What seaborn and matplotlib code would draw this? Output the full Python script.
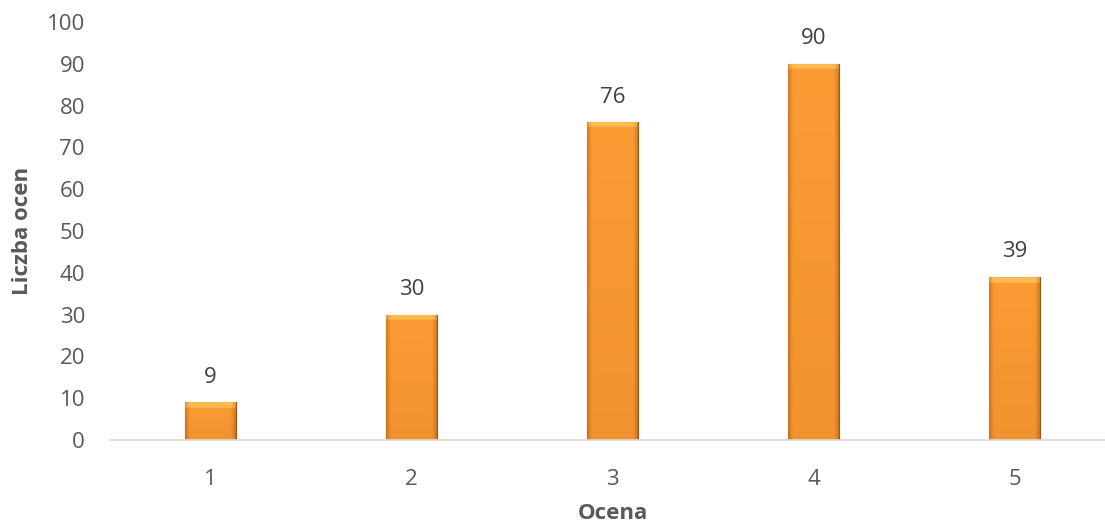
import numpy as np
import pandas as pd
import matplotlib
matplotlib.use("Agg")
import matplotlib.pyplot as plt
import seaborn as sns

categories = ["1", "2", "3", "4", "5"]
values = [9, 30, 76, 90, 39]
y_ticks = [0, 10, 20, 30, 40, 50, 60, 70, 80, 90, 100]

sns.set_theme(style="white")
plt.rcParams['font.family'] = ['Open Sans', 'DejaVu Sans']

df = pd.DataFrame({"Ocena": categories, "Liczba ocen": values})

fig = plt.figure(figsize=(11.05, 5.25), dpi=100)
ax = fig.add_axes([0.0995, 0.162, 0.9095, 0.796])

sns.barplot(data=df, x="Ocena", y="Liczba ocen", color="#F39425", width=0.25,
            edgecolor="#9A5414", linewidth=0.8, ax=ax, saturation=1)

nx, ny = 80, 200
xs = np.linspace(0, 1, nx)
for p in ax.patches:
    x0, y0 = p.get_x(), p.get_y()
    w, h = p.get_width(), p.get_height()
    prof = np.clip(np.minimum(xs, 1 - xs) / 0.10, 0, 1) ** 0.7
    base = np.tile(prof, (ny, 1))
    ys = np.linspace(0, 1, ny)[:, None]
    shade = 0.45 + 0.55 * base - 0.12 * ys
    img = np.ones((ny, nx, 4))
    dark = np.array([0.66, 0.34, 0.08])
    light = np.array([0.985, 0.61, 0.20])
    for c in range(3):
        img[:, :, c] = dark[c] + (light[c] - dark[c]) * np.clip(shade, 0, 1)
    px_h = h * 4.18
    topn = max(2, int(ny * min(0.5, 6.0 / max(px_h, 1))))
    img[:topn, :, :3] = np.clip(img[:topn, :, :3] + np.array([0.02, 0.12, 0.12]), 0, 1)
    im = ax.imshow(img, extent=[x0, x0 + w, y0, y0 + h], aspect="auto",
                   origin="upper", zorder=p.get_zorder() + 0.1, interpolation="bilinear")
    im.set_clip_path(p)
    ax.text(x0 + w / 2, h + 3.5, f"{int(h)}", ha="center", va="bottom",
            fontsize=16, color="#404040")

ax.set_xlim(-0.5, 4.5)
ax.set_ylim(0, 100)
ax.set_yticks(y_ticks)
ax.tick_params(axis="both", labelsize=16, colors="#595959", length=0)
ax.tick_params(axis="y", pad=18)
ax.tick_params(axis="x", pad=21)
for s in ["top", "right", "left"]:
    ax.spines[s].set_visible(False)
ax.spines["bottom"].set_color("#D9D9D9")
ax.spines["bottom"].set_linewidth(1.2)
ax.grid(False)
ax.set_xlabel("Ocena", fontsize=16, fontweight="bold", color="#595959", labelpad=9)
ax.set_ylabel("Liczba ocen", fontsize=16, fontweight="bold", color="#595959", labelpad=10)

fig.savefig("out.png", dpi=100)
